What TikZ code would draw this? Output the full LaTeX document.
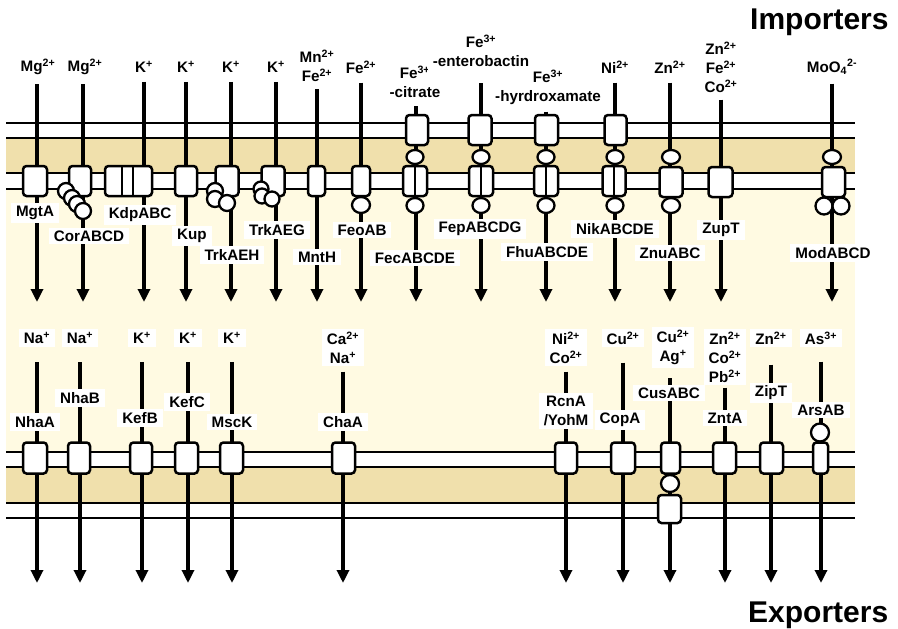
\documentclass[tikz,border=0pt]{standalone}
\usepackage{fontspec}
\setmainfont{Liberation Sans}
\usetikzlibrary{shapes.geometric,arrows.meta}
\definecolor{periplasm}{RGB}{240,224,172}
\definecolor{cyto}{RGB}{255,250,226}
\pgfdeclarelayer{bg}
\pgfdeclarelayer{flowlayer}
\pgfsetlayers{bg,flowlayer,main}
\begin{document}
\begin{tikzpicture}[x=1pt,y=-1pt,
  lbl/.style={fill=white, inner xsep=5pt, inner ysep=3pt, align=center,
    font=\fontsize{15.2}{19}\selectfont\bfseries},
  title/.style={inner sep=0pt, font=\fontsize{30}{32}\selectfont\bfseries},
  flow/.style={line width=3.2pt, -{Triangle[length=13pt,width=12pt]}},
  prot/.style={draw, line width=2.5pt, fill=white, rounded corners=3.5pt,
    minimum width=23pt, minimum height=30pt, inner sep=0pt},
  sub/.style={draw, line width=2.3pt, fill=white, ellipse,
    minimum width=17pt, minimum height=14pt, inner sep=0pt},
  ball/.style={draw, line width=2.3pt, fill=white, circle,
    minimum size=16pt, inner sep=0pt},
  split/.style={prot, path picture={\draw[line width=2pt]
    (path picture bounding box.north) -- (path picture bounding box.south);}},
  kdp/.style={prot, path picture={\draw[line width=2pt]
    ([xshift=-6.5pt]path picture bounding box.north) -- ([xshift=-6.5pt]path picture bounding box.south)
    ([xshift=4.5pt]path picture bounding box.north) -- ([xshift=4.5pt]path picture bounding box.south);}},
  mem/.style={line width=2.9pt}]
\useasboundingbox (0,0) rectangle (898,629);

% ---------- membranes ----------
\begin{pgfonlayer}{bg}
\fill[white] (0,0) rectangle (898,629);
\fill[cyto] (6,189) rectangle (855,452);
\fill[periplasm] (6,138) rectangle (855,173);
\fill[periplasm] (6,467) rectangle (855,503);
\foreach \y in {123,138,173,189,452,467,503,518}
  \draw[mem] (6,\y) -- (855,\y);
\end{pgfonlayer}

% ---------- titles ----------
\node[title, anchor=base west] (imp) at (750,29.5) {Importers};
\node[title, anchor=base west] (exp) at (748,622) {Exporters};

% ---------- importers: substrates ----------
\node[lbl] (iA) at (38,67) {Mg\textsuperscript{2+}};
\node[lbl] (iB) at (85,67) {Mg\textsuperscript{2+}};
\node[lbl] (iC) at (144,67) {K\textsuperscript{+}};
\node[lbl] (iD) at (186,67) {K\textsuperscript{+}};
\node[lbl] (iE) at (231,67) {K\textsuperscript{+}};
\node[lbl] (iF) at (276,67) {K\textsuperscript{+}};
\node[lbl] (iG) at (317,66) {Mn\textsuperscript{2+}\\Fe\textsuperscript{2+}};
\node[lbl] (iH) at (361,67) {Fe\textsuperscript{2+}};
\node[lbl] (iI) at (415,82) {Fe\textsuperscript{3+}\\-citrate};
\node[lbl] (iJ) at (481,51) {Fe\textsuperscript{3+}\\-enterobactin};
\node[lbl] (iK) at (548,87) {Fe\textsuperscript{3+}\\-hyrdroxamate};
\node[lbl] (iL) at (615,67) {Ni\textsuperscript{2+}};
\node[lbl] (iM) at (670,67) {Zn\textsuperscript{2+}};
\node[lbl] (iN) at (721,67) {Zn\textsuperscript{2+}\\Fe\textsuperscript{2+}\\Co\textsuperscript{2+}};
\node[lbl] (iO) at (832,67) {MoO\textsubscript{4}\textsuperscript{2-}};

% arrow ends
\foreach \n/\x in {A/37,B/83,C/144,D/186,E/231,F/276,G/317,H/361,I/416,J/481,K/546,L/615,M/670,N/721,O/832}
  \coordinate (t\n) at (\x,302);

% ---------- importers: proteins ----------
\node[prot, minimum width=24pt] (pA) at (35,181) {};
\node[prot, minimum width=22pt] (pB) at (80,181) {};
\node[ball] (cB1) at (66,191) {};
\node[ball] (cB2) at (72,198) {};
\node[ball] (cB3) at (77,204) {};
\node[ball] (cB4) at (83,211) {};
\node[kdp, minimum width=47pt] (pC) at (128.5,181) {};
\node[prot, minimum width=22pt] (pD) at (186,181) {};
\node[prot] (pE) at (227,181) {};
\node[ball] (cE1) at (215,191) {};
\node[ball] (cE2) at (215,199) {};
\node[ball] (cE3) at (227,203) {};
\node[prot] (pF) at (273,181) {};
\node[ball, minimum size=15pt] (cF1) at (261,189) {};
\node[ball, minimum size=15pt] (cF2) at (262,196) {};
\node[ball, minimum size=15pt] (cF3) at (272,199) {};
\node[prot, minimum width=17pt] (pG) at (316.5,181) {};
\node[prot, minimum width=18pt] (pH) at (361,181) {};
\node[sub, minimum width=18pt, minimum height=16pt] (sH) at (361,205) {};
% Fec
\node[prot, minimum width=22pt] (oI) at (417,130) {};
\node[sub] (uI) at (415,157) {};
\node[split, minimum width=24pt] (pI) at (415,181) {};
\node[sub, minimum height=15pt] (sI) at (415,205.5) {};
% Fep
\node[prot, minimum width=23pt] (oJ) at (480,130) {};
\node[sub] (uJ) at (481,157) {};
\node[split, minimum width=24pt] (pJ) at (481,181) {};
\node[sub, minimum height=15pt] (sJ) at (481,205.5) {};
% Fhu
\node[prot, minimum width=23pt] (oK) at (546.5,130) {};
\node[sub] (uK) at (546,157) {};
\node[split, minimum width=24pt] (pK) at (546,181) {};
\node[sub, minimum height=15pt] (sK) at (546,205.5) {};
% Nik
\node[prot, minimum width=22pt] (oL) at (615.5,130) {};
\node[sub] (uL) at (615,157) {};
\node[split, minimum width=23pt] (pL) at (614,181) {};
\node[sub, minimum height=15pt] (sL) at (615,205.5) {};
% Znu
\node[sub, minimum width=18pt] (uM) at (671,157) {};
\node[prot, minimum width=23pt] (pM) at (671,182) {};
\node[sub, minimum width=18pt, minimum height=15pt] (sM) at (671,205.5) {};
% ZupT
\node[prot, minimum width=24pt] (pN) at (720.5,182) {};
% Mod
\node[sub, minimum width=18pt] (uO) at (832,157) {};
\node[prot, minimum width=23pt] (pO) at (833.5,182) {};
\node[ball, minimum size=17pt] (cO1) at (824,206) {};
\node[ball, minimum size=17pt] (cO2) at (841,206) {};

% ---------- importers: names ----------
\node[lbl] (nA) at (35,213) {MgtA};
\node[lbl] (nB) at (89,236) {CorABCD};
\node[lbl] (nC) at (140,215) {KdpABC};
\node[lbl] (nD) at (192,236) {Kup};
\node[lbl] (nE) at (232,255) {TrkAEH};
\node[lbl] (nF) at (277,230) {TrkAEG};
\node[lbl] (nG) at (317,257) {MntH};
\node[lbl] (nH) at (362,230) {FeoAB};
\node[lbl] (nI) at (415,258) {FecABCDE};
\node[lbl] (nJ) at (480,229) {FepABCDG};
\node[lbl] (nK) at (547,252) {FhuABCDE};
\node[lbl] (nL) at (615,229) {NikABCDE};
\node[lbl] (nM) at (670,253) {ZnuABC};
\node[lbl] (nN) at (721,230) {ZupT};
\node[lbl] (nO) at (833,253) {ModABCD};

% ---------- exporters: substrates ----------
\node[lbl] (jA) at (37,338) {Na\textsuperscript{+}};
\node[lbl] (jB) at (80,338) {Na\textsuperscript{+}};
\node[lbl] (jC) at (142,338) {K\textsuperscript{+}};
\node[lbl] (jD) at (188,338) {K\textsuperscript{+}};
\node[lbl] (jE) at (232,338) {K\textsuperscript{+}};
\node[lbl] (jF) at (343,347.5) {Ca\textsuperscript{2+}\\Na\textsuperscript{+}};
\node[lbl] (jG) at (566,347.5) {Ni\textsuperscript{2+}\\Co\textsuperscript{2+}};
\node[lbl] (jH) at (623,338) {Cu\textsuperscript{2+}};
\node[lbl] (jI) at (673,347.5) {Cu\textsuperscript{2+}\\Ag\textsuperscript{+}};
\node[lbl] (jJ) at (725,357) {Zn\textsuperscript{2+}\\Co\textsuperscript{2+}\\Pb\textsuperscript{2+}};
\node[lbl] (jK) at (771,338) {Zn\textsuperscript{2+}};
\node[lbl] (jL) at (821,338) {As\textsuperscript{3+}};

\foreach \n/\x in {A/37,B/80,C/142,D/188,E/232,F/343,G/566,H/623,I/670,J/725,K/771,L/821}
  \coordinate (b\n) at (\x,583);

% ---------- exporters: proteins ----------
\node[prot, minimum width=24pt, minimum height=31pt] (qA) at (35,458) {};
\node[prot, minimum width=22pt, minimum height=31pt] (qB) at (79,458) {};
\node[prot, minimum width=22pt, minimum height=31pt] (qC) at (141,458) {};
\node[prot, minimum width=23pt, minimum height=31pt] (qD) at (186.5,458) {};
\node[prot, minimum width=23pt, minimum height=31pt] (qE) at (231.5,458) {};
\node[prot, minimum width=23pt, minimum height=31pt] (qF) at (343.5,458) {};
\node[prot, minimum width=22pt, minimum height=31pt] (qG) at (566,458) {};
\node[prot, minimum width=24pt, minimum height=31pt] (qH) at (623,458) {};
\node[prot, minimum width=19pt, minimum height=31pt] (qI) at (670.5,458) {};
\node[sub, minimum width=18pt, minimum height=17pt] (vI) at (670,483.5) {};
\node[prot, minimum width=23pt, minimum height=28pt] (wI) at (669.5,509) {};
\node[prot, minimum width=23pt, minimum height=31pt] (qJ) at (724.5,458) {};
\node[prot, minimum width=23pt, minimum height=31pt] (qK) at (771.5,458) {};
\node[ball, minimum size=18pt] (vL) at (820,432.5) {};
\node[prot, minimum width=15pt, minimum height=31pt] (qL) at (820.5,458) {};

% ---------- exporters: names ----------
\node[lbl] (mA) at (35,422) {NhaA};
\node[lbl] (mB) at (80,398) {NhaB};
\node[lbl] (mC) at (140,418) {KefB};
\node[lbl] (mD) at (187,402) {KefC};
\node[lbl] (mE) at (232,422) {MscK};
\node[lbl] (mF) at (343,422) {ChaA};
\node[lbl] (mG) at (566,411) {RcnA\\/YohM};
\node[lbl] (mH) at (620,420) {CopA};
\node[lbl] (mI) at (669,393) {CusABC};
\node[lbl] (mJ) at (725,418) {ZntA};
\node[lbl] (mK) at (771,393) {ZipT};
\node[lbl] (mL) at (821,410) {ArsAB};

% ---------- fluxes ----------
\begin{pgfonlayer}{flowlayer}
\foreach \n/\s in {A/6,B/6,C/6,D/6,E/6,F/6,G/4,H/6,I/5,J/13,K/4,L/6,M/6,N/4,O/6}
  \draw[flow, shorten <=\s pt] (i\n.south -| t\n) -- (t\n);
\foreach \n/\s in {A/15,B/15,C/15,D/15,E/15,F/5,G/5,H/15,I/10,J/2,K/17,L/14}
  \draw[flow, shorten <=\s pt] (j\n.south -| b\n) -- (b\n);
\end{pgfonlayer}
\end{tikzpicture}
\end{document}
